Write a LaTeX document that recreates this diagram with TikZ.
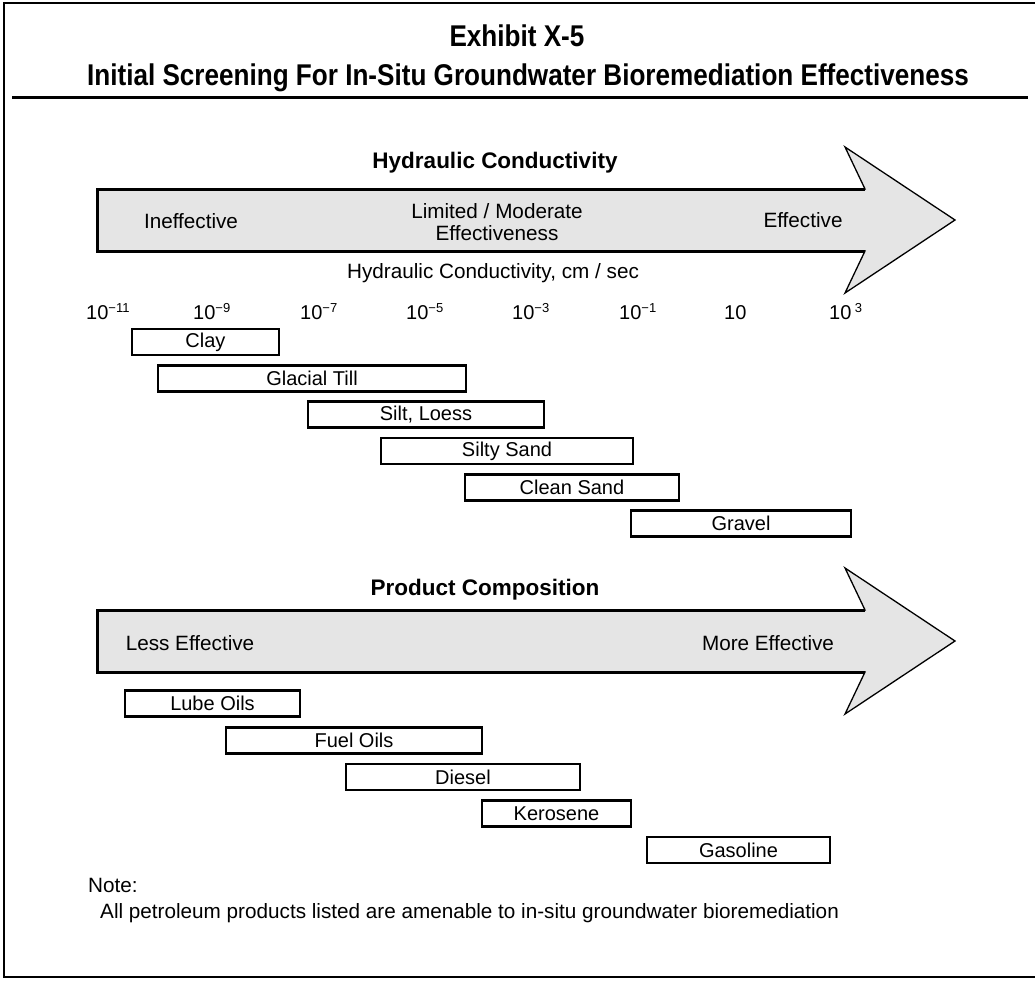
\documentclass[tikz,border=0pt]{standalone}
\usepackage{fontspec}
\setmainfont{Liberation Sans}
\usepackage{graphicx}
\newcommand{\tenp}[1]{10\raisebox{0.6ex}{\fontsize{13}{13}\selectfont #1}}
\begin{document}
\begin{tikzpicture}[x=1pt,y=-1pt,
  bar/.style={draw, line width=2.4pt, inner sep=0pt, minimum height=26pt, font=\fontsize{20}{22}\selectfont},
  lbl/.style={inner sep=0pt, font=\fontsize{20.7}{22}\selectfont},
  tick/.style={inner sep=0pt, anchor=base west, font=\fontsize{20}{22}\selectfont},
  head/.style={inner sep=0pt, font=\fontsize{22.5}{25}\selectfont\bfseries},
  ttl/.style={inner sep=0pt, anchor=base, font=\fontsize{30}{32}\selectfont\bfseries},
  arrowbody/.style={fill=black!10, draw, line width=1.3pt, line join=miter},
  arrowedge/.style={line width=3pt, line join=miter},
]
\useasboundingbox (0,0) rectangle (1035,980);
% frame
\draw[line width=2.6pt] (1035,3) -- (4,3) -- (4,977) -- (1035,977);
% title
\node[ttl] (t1) at (517,46) {\scalebox{0.87}[1]{Exhibit X-5}};
\node[ttl] (t2) at (528,85) {\scalebox{0.87}[1]{Initial Screening For In-Situ Groundwater Bioremediation Effectiveness}};
\draw[line width=3pt] (12,97) -- (1028,97);

% arrow 1
\path[arrowbody] (97,189) -- (865,189) -- (845,147) -- (955,220) -- (845,293) -- (865,251) -- (97,251) -- cycle;
\draw[arrowedge] (865,189) -- (97,189) -- (97,251) -- (865,251);
\node[head] (h1) at (495,163) {Hydraulic Conductivity};
\node[lbl] (a1) at (191,221) {Ineffective};
\node[lbl, align=center, font=\fontsize{20.7}{22}\selectfont] (a2) at (497,222) {Limited / Moderate\\Effectiveness};
\node[lbl] (a3) at (803,220) {Effective};
\node[lbl] (unit) at (493,273) {Hydraulic Conductivity, cm / sec};

% ticks
\node[tick] (k1) at (86,319) {\tenp{−11}};
\node[tick] (k2) at (193,319) {\tenp{−9}};
\node[tick] (k3) at (300,319) {\tenp{−7}};
\node[tick] (k4) at (406,319) {\tenp{−5}};
\node[tick] (k5) at (512,319) {\tenp{−3}};
\node[tick] (k6) at (619,319) {\tenp{−1}};
\node[tick] (k7) at (724,319) {10};
\node[tick] (k8) at (829,319) {10\,\raisebox{0.6ex}{\fontsize{13}{13}\selectfont 3}};

% soil bars
\node[bar, minimum width=147pt] (clay) at (205.5,342) {Clay};
\node[bar, minimum width=308pt] (till) at (312,378.5) {Glacial Till};
\node[bar, minimum width=236pt] (silt) at (426,414.5) {Silt, Loess};
\node[bar, minimum width=252pt] (ssand) at (507,451) {Silty Sand};
\node[bar, minimum width=214pt] (csand) at (572,487.5) {Clean Sand};
\node[bar, minimum width=220pt] (gravel) at (741,523.5) {Gravel};

% arrow 2
\path[arrowbody] (97,610) -- (865,610) -- (845,568) -- (955,641) -- (845,714) -- (865,672) -- (97,672) -- cycle;
\draw[arrowedge] (865,610) -- (97,610) -- (97,672) -- (865,672);
\node[head] (h2) at (485,590) {Product Composition};
\node[lbl] (b1) at (190,643) {Less Effective};
\node[lbl] (b2) at (768,643) {More Effective};

% product bars
\node[bar, minimum width=175pt] (lube) at (212.5,703.5) {Lube Oils};
\node[bar, minimum width=256pt] (fuel) at (354,740.5) {Fuel Oils};
\node[bar, minimum width=234pt] (diesel) at (463,777) {Diesel};
\node[bar, minimum width=149pt] (kero) at (556.5,813.5) {Kerosene};
\node[bar, minimum width=183pt] (gas) at (738.5,850) {Gasoline};

% note
\node[lbl, anchor=west] (note) at (88,885) {Note:};
\node[lbl, anchor=west] (notetxt) at (100,913) {All petroleum products listed are amenable to in-situ groundwater bioremediation};
\end{tikzpicture}
\end{document}
